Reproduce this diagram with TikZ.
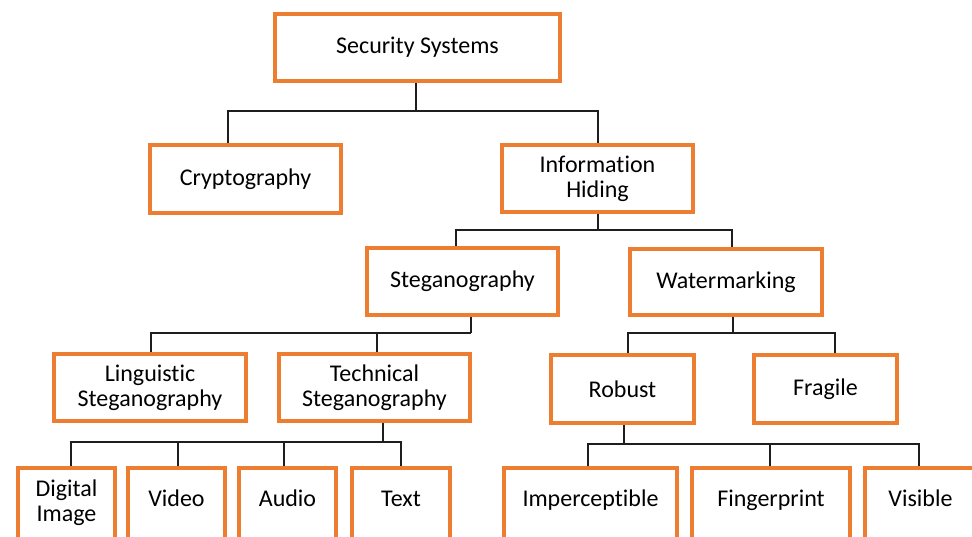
\documentclass[tikz,border=0pt]{standalone}
\usepackage{fontspec}
\setmainfont{Carlito}[Ligatures=NoCommon]
\usetikzlibrary{positioning}
\definecolor{boxorange}{RGB}{237,125,49}
\definecolor{linkgray}{RGB}{30,30,30}

\tikzset{
  box/.style={draw=boxorange, line width=4pt, fill=white, align=center,
    inner sep=0pt, font=\fontsize{24}{25}\selectfont},
  % bottom row boxes, cut by the page edge
  leafbox/.style={box, minimum height=78, text height=17pt, text depth=19pt},
  link/.style={draw=linkgray, line width=2pt}
}

\begin{document}
\begin{tikzpicture}[x=1pt, y=-1pt]
    \useasboundingbox (0,0) rectangle (972,536);
    \clip (0,0) rectangle (972,536);

    % top levels
    \node[box, minimum width=285, minimum height=67] (sec) at (417.5,47.5) {Security Systems};
    \node[box, minimum width=191, minimum height=68] (crypt) at (245.5,179) {Cryptography};
    \node[box, minimum width=191, minimum height=67] (info) at (597.5,178.5) {Information\\Hiding};

    \node[box, minimum width=191, minimum height=67] (stego) at (462.5,281.5) {Steganography};
    \node[box, minimum width=192, minimum height=66] (water) at (726,282) {Watermarking};

    \node[box, minimum width=192, minimum height=67] (ling) at (150,387.5) {Linguistic\\Steganography};
    \node[box, minimum width=191, minimum height=67] (tech) at (374.5,387.5) {Technical\\Steganography};
    \node[box, minimum width=143, minimum height=68] (robust) at (622.5,389) {Robust};
    \node[box, minimum width=143, minimum height=68] (fragile) at (825.5,389) {Fragile};

    % bottom row
    \node[box, minimum width=97, minimum height=78] (digital) at (66.5,507) {Digital\\Image\\[-13pt]};
    \node[leafbox, minimum width=97] (video) at (176.5,507) {Video};
    \node[leafbox, minimum width=97] (audio) at (287.5,507) {Audio};
    \node[leafbox, minimum width=98] (txt) at (401,507) {Text};
    \node[leafbox, minimum width=173] (imper) at (590.5,507) {Imperceptible};
    \node[leafbox, minimum width=158] (finger) at (771,507) {Fingerprint};
    \node[leafbox, minimum width=111] (visible) at (920.5,507) {Visible};

    % connectors
    \draw[link] ([xshift=-1.5]sec.south) -- ++(0,28) coordinate (j1);
    \draw[link] ([xshift=-17.5]crypt.north) |- (j1) -| (info.north);

    \draw[link] (info.south) -- ++(0,16) coordinate (j2);
    \draw[link] ([xshift=-6.5]stego.north) |- (j2) -| ([xshift=6]water.north);

    \draw[link] ([xshift=8.5]stego.south) -- ++(0,16) coordinate (j3);
    \draw[link] ([xshift=1]ling.north) |- (j3);
    \draw[link] ([xshift=2.5]tech.north) -- ([xshift=2.5]tech.north |- j3);

    \draw[link] ([xshift=7]water.south) -- ++(0,16) coordinate (j4);
    \draw[link] ([xshift=5.5]robust.north) |- (j4) -| ([xshift=9.5]fragile.north);

    \draw[link] ([xshift=8.5]tech.south) -- ++(0,19) coordinate (j5);
    \draw[link] ([xshift=4.5]digital.north) |- (j5) -| (txt.north);
    \draw[link] ([xshift=1.5]video.north) -- ([xshift=1.5]video.north |- j5);
    \draw[link] ([xshift=-3.5]audio.north) -- ([xshift=-3.5]audio.north |- j5);

    \draw[link] ([xshift=1.5]robust.south) -- ++(0,19) coordinate (j6);
    \draw[link] ([xshift=-2.5]imper.north) |- (j6) -| ([xshift=-1.5]visible.north);
    \draw[link] ([xshift=-1]finger.north) -- ([xshift=-1]finger.north |- j6);
\end{tikzpicture}
\end{document}
